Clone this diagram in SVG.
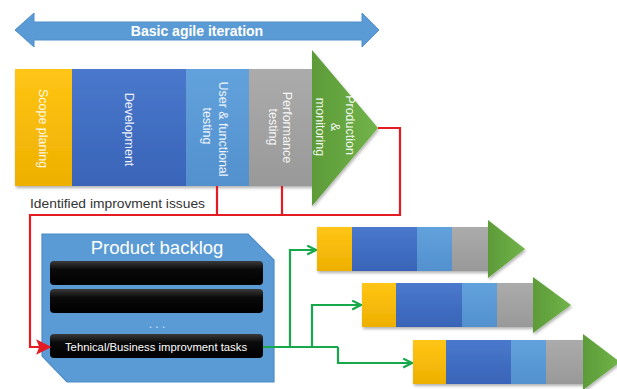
<svg xmlns="http://www.w3.org/2000/svg" width="617" height="389" viewBox="0 0 617 389">
<defs>
<linearGradient id="gy" x1="0" y1="0" x2="0" y2="1"><stop offset="0" stop-color="#FFC515"/><stop offset="1" stop-color="#EDB000"/></linearGradient>
<linearGradient id="gb" x1="0" y1="0" x2="0" y2="1"><stop offset="0" stop-color="#4A78CC"/><stop offset="1" stop-color="#3964B8"/></linearGradient>
<linearGradient id="gl" x1="0" y1="0" x2="0" y2="1"><stop offset="0" stop-color="#62A2DC"/><stop offset="1" stop-color="#5290CE"/></linearGradient>
<linearGradient id="gg" x1="0" y1="0" x2="0" y2="1"><stop offset="0" stop-color="#ABABAB"/><stop offset="1" stop-color="#999999"/></linearGradient>
<linearGradient id="gt" x1="0" y1="0" x2="1" y2="0"><stop offset="0" stop-color="#5C9B38"/><stop offset="1" stop-color="#72B34A"/></linearGradient>
<linearGradient id="gk" x1="0" y1="0" x2="0" y2="1"><stop offset="0" stop-color="#3A3A3A"/><stop offset="0.35" stop-color="#0A0A0A"/><stop offset="1" stop-color="#000000"/></linearGradient>
<filter id="sh" x="-5%" y="-5%" width="110%" height="120%"><feDropShadow dx="1" dy="2" stdDeviation="1.5" flood-color="#000" flood-opacity="0.3"/></filter>
<marker id="ar" viewBox="0 0 10 10" refX="9" refY="5" markerWidth="7" markerHeight="7" orient="auto" markerUnits="strokeWidth"><path d="M0,0 L10,5 L0,10 L2,5 Z" fill="#E31B23"/></marker>
<marker id="ag" viewBox="0 0 10 10" refX="9" refY="5" markerWidth="5" markerHeight="5" orient="auto" markerUnits="strokeWidth"><path d="M1,1 L9,5 L1,9" fill="none" stroke="#17A84B" stroke-width="2"/></marker>
<style>
.lbl{font-family:"Liberation Sans",Arial,sans-serif;font-size:12.5px;fill:#FFFFFF;fill-opacity:0.92;text-anchor:middle}
.red{fill:none;stroke:#E31B23;stroke-width:2.2}
.grn{fill:none;stroke:#17A84B;stroke-width:2.2}
.y{fill:url(#gy)}.b{fill:url(#gb)}.l{fill:url(#gl)}.g{fill:url(#gg)}.t{fill:url(#gt)}
.bar{fill:url(#gk)}
</style>
</defs>
<rect width="617" height="389" fill="#FFFFFF"/>

<g id="iteration-arrow">
<polygon points="15,30 34,13 34,22 362,22 362,13 379,30 362,47 362,40 34,40 34,47" fill="#5B9BD5" stroke="#4F8FCB" stroke-width="1"/>
<text x="197" y="36" font-family="Liberation Sans,Arial,sans-serif" font-size="14" font-weight="bold" fill="#FFFFFF" text-anchor="middle">Basic agile iteration</text>
</g>

<g id="main-iteration" filter="url(#sh)">
<rect x="15" y="69" width="57" height="117" class="y"/>
<rect x="72" y="69" width="114" height="117" class="b"/>
<rect x="186" y="69" width="63" height="117" class="l"/>
<rect x="249" y="69" width="63" height="117" class="g"/>
<polygon points="312,50 378,128 312,206" class="t"/>
</g>
<g id="stage-labels">
<text class="lbl" transform="translate(38.5,128.5) rotate(90)">Scope planing</text>
<text class="lbl" transform="translate(124.5,129.5) rotate(90)">Development</text>
<text class="lbl" transform="translate(219,129) rotate(90)">User &amp; functional</text>
<text class="lbl" transform="translate(203,126) rotate(90)">testing</text>
<text class="lbl" transform="translate(283,127.5) rotate(90)">Performance</text>
<text class="lbl" transform="translate(269,127) rotate(90)">testing</text>
<text class="lbl" transform="translate(346,125) rotate(90)">Production</text>
<text class="lbl" transform="translate(331,127) rotate(90)">&amp;</text>
<text class="lbl" transform="translate(316,127) rotate(90)">monitoring</text>
</g>

<text x="30" y="208" font-family="Liberation Sans,Arial,sans-serif" font-size="13.5" fill="#333333" textLength="175" lengthAdjust="spacingAndGlyphs">Identified improvment issues</text>

<g id="product-backlog">
<polygon points="42,234 248,234 274,260 274,382 67,382 42,356" fill="#5B9BD5" stroke="#4D8BC8" stroke-width="1.2"/>
<text x="157" y="254" font-family="Liberation Sans,Arial,sans-serif" font-size="18.5" fill="#FFFFFF" text-anchor="middle">Product backlog</text>
<rect x="50" y="261" width="213" height="24" rx="4" class="bar"/>
<rect x="50" y="289" width="213" height="24" rx="4" class="bar"/>
<text x="157" y="328" font-family="Liberation Sans,Arial,sans-serif" font-size="12" fill="#D6E6F6" text-anchor="middle">. . .</text>
<rect x="50" y="334" width="213" height="24" rx="4" class="bar"/>
<text x="156" y="351" font-family="Liberation Sans,Arial,sans-serif" font-size="11.3" fill="#FFFFFF" text-anchor="middle">Tehnical/Business improvment tasks</text>
</g>

<g id="iteration-1" filter="url(#sh)">
<rect x="317" y="227" width="35" height="44" class="y"/>
<rect x="352" y="227" width="65" height="44" class="b"/>
<rect x="417" y="227" width="35" height="44" class="l"/>
<rect x="452" y="227" width="36" height="44" class="g"/>
<polygon points="488,220 525,249 488,278" class="t"/>
</g>
<g id="iteration-2" filter="url(#sh)">
<rect x="362" y="283" width="34" height="44" class="y"/>
<rect x="396" y="283" width="66" height="44" class="b"/>
<rect x="462" y="283" width="35" height="44" class="l"/>
<rect x="497" y="283" width="36" height="44" class="g"/>
<polygon points="533,277 571,305 533,333" class="t"/>
</g>
<g id="iteration-3" filter="url(#sh)">
<rect x="413" y="340" width="33" height="44" class="y"/>
<rect x="446" y="340" width="65" height="44" class="b"/>
<rect x="511" y="340" width="35" height="44" class="l"/>
<rect x="546" y="340" width="37" height="44" class="g"/>
<polygon points="583,334 620,362 583,390" class="t"/>
</g>

<g id="connectors">
<polyline class="red" points="378,128 400,128 400,215 30,215 30,347 50,347" marker-end="url(#ar)"/>
<line class="red" x1="217" y1="186" x2="217" y2="215"/>
<line class="red" x1="282" y1="186" x2="282" y2="215"/>
<polyline class="grn" points="263,347 338,347"/>
<polyline class="grn" points="290,347 290,250 316,250" marker-end="url(#ag)"/>
<polyline class="grn" points="312,347 312,305 361,305" marker-end="url(#ag)"/>
<polyline class="grn" points="338,347 338,363 412,363" marker-end="url(#ag)"/>
</g>
</svg>
